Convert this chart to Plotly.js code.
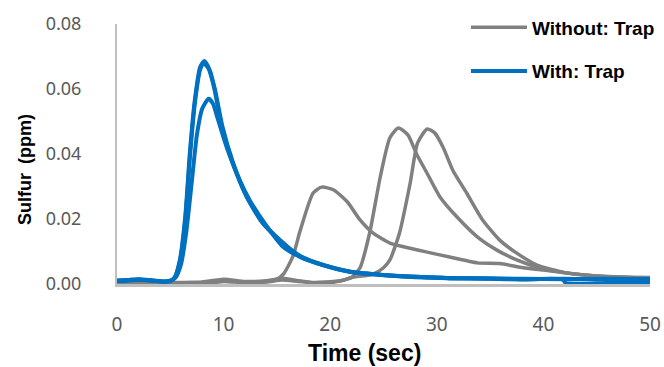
<!DOCTYPE html>
<html>
<head>
<meta charset="utf-8">
<script src="https://cdn.plot.ly/plotly-3.0.1.min.js"></script>
<style>html,body{margin:0;padding:0;background:#fff;}#chart{width:664px;height:367px;}</style>
</head>
<body>
<div id="chart"></div>
<script>
// ---- Data ----
const legendNames = ["Without: Trap", "With: Trap"];

// Without trap (gray), run 1
const tGray1 = [0,2,4,6,8,10,12,14,15,15.6,16.5,17.2,18.4,19.2,20.3,21.6,22.8,24,25.6,27.5,29.1,31.2,33.8,35.9,38.1,40,43,46,50];
const vGray1 = [0.0003,0.0005,0.0003,0.0004,0.0006,0.0015,0.0008,0.001,0.0015,0.003,0.0085,0.0166,0.028,0.0298,0.029,0.0253,0.0197,0.0157,0.0126,0.011,0.0098,0.0083,0.0065,0.0063,0.005,0.0043,0.003,0.0022,0.0018];
// Without trap (gray), run 2
const tGray2 = [0,3,6,9,10,12,14,15.5,17,18.5,19.5,21,22,22.8,23.7,24.7,25.6,26.4,27.3,28.1,29.1,30.3,31.9,33.8,35.6,37.5,39.4,42,45,50];
const vGray2 = [0.0003,0.0005,0.0003,0.0006,0.001,0.0005,0.0008,0.0018,0.001,0.0003,0.0002,0.001,0.002,0.005,0.0157,0.033,0.045,0.048,0.0458,0.040,0.034,0.0268,0.0206,0.0145,0.0105,0.0074,0.0052,0.0035,0.0025,0.002];
// Without trap (gray), run 3
const tGray3 = [0,3,6,9,10,12,14,15.5,17,18.5,19.5,21,22,24,25,25.6,26.5,27.5,28.2,29.1,29.8,30.6,31.5,32.8,34.3,35.9,37.5,39.4,42,45,50];
const vGray3 = [0.0002,0.0004,0.0005,0.0004,0.0008,0.0004,0.0006,0.0012,0.0008,0.0005,0.0006,0.001,0.002,0.003,0.005,0.0074,0.0157,0.031,0.0434,0.0477,0.0465,0.042,0.035,0.028,0.0197,0.0135,0.0095,0.0058,0.0035,0.0025,0.0018];

// With trap (blue), run 1
const tBlue1 = [0,1,2,3,4,4.5,5,5.4,5.9,6.4,6.85,7.3,7.8,8.2,8.7,9.2,9.9,10.9,12.2,13.7,15.3,17.2,19.7,21.9,25,28.1,31.2,35,38,42,46,50];
const vBlue1 = [0.001,0.0012,0.0015,0.0012,0.0008,0.0007,0.001,0.002,0.0074,0.0206,0.041,0.0566,0.0668,0.0686,0.0658,0.0597,0.0483,0.0372,0.0268,0.0188,0.0135,0.0083,0.0055,0.0038,0.0028,0.0022,0.0018,0.0017,0.0015,0.0016,0.0014,0.0015];
// With trap (blue), run 2
const tBlue2 = [0,1,2,3,4,4.5,5,5.4,5.9,6.4,6.85,7.3,7.8,8.1,8.6,9.1,9.8,10.8,12.1,13.6,15.2,17.2,19.5,22,25,28,31,35,38,41.8,42.1,46,50];
const vBlue2 = [0.0009,0.001,0.0013,0.0011,0.0009,0.0008,0.0009,0.0018,0.007,0.0195,0.0395,0.0555,0.066,0.068,0.0662,0.0605,0.049,0.0378,0.0272,0.019,0.0137,0.0086,0.0057,0.0037,0.0027,0.0021,0.0018,0.0016,0.0014,0.0014,0.0003,0.0003,0.0003];
// With trap (blue), run 3
const tBlue3 = [0,1,2,3,4,4.5,5,5.5,6,6.5,7,7.5,8,8.6,9,9.4,10.3,11.5,12.5,14,15.6,17.2,19.3,21.9,25,28.1,31.2,35,38,42,46,50];
const vBlue3 = [0.0011,0.0012,0.0014,0.0012,0.0009,0.0008,0.001,0.002,0.006,0.016,0.031,0.046,0.054,0.057,0.0555,0.0514,0.042,0.032,0.0255,0.018,0.0114,0.0083,0.0058,0.0037,0.0028,0.0022,0.0018,0.0017,0.0016,0.0015,0.0016,0.0015];

// Axis ticks
const xTicks = [0,10,20,30,40,50];
const yTicks = [0,0.02,0.04,0.06,0.08];
const yTickText = ["0.00","0.02","0.04","0.06","0.08"];

// ---- Styling ----
const GRAY = "#808080";
const BLUE = "#0070C0";

function mk(t, v, name, color, width, show, group) {
  return {
    x: t, y: v, type: "scatter", mode: "lines", name: name,
    legendgroup: group, showlegend: show,
    line: {color: color, width: width, shape: "spline", smoothing: 0.6},
    hoverinfo: "skip"
  };
}

const traces = [
  mk(tGray1, vGray1, legendNames[0], GRAY, 3.5, true, "g"),
  mk(tGray2, vGray2, legendNames[0], GRAY, 3.5, false, "g"),
  mk(tGray3, vGray3, legendNames[0], GRAY, 3.5, false, "g"),
  mk(tBlue1, vBlue1, legendNames[1], BLUE, 4, true, "b"),
  mk(tBlue2, vBlue2, legendNames[1], BLUE, 4, false, "b"),
  mk(tBlue3, vBlue3, legendNames[1], BLUE, 4, false, "b")
];

const layout = {
  width: 664, height: 367,
  margin: {l: 117, r: 14, t: 24, b: 83, autoexpand: false},
  paper_bgcolor: "#fff", plot_bgcolor: "#fff",
  showlegend: true,
  legend: {
    x: (466-117)/533, y: 1.06, xanchor: "left", yanchor: "top",
    traceorder: "grouped", tracegroupgap: 16, itemwidth: 56,
    font: {family: "Liberation Sans, Arial, sans-serif", size: 19, color: "#000", weight: "bold"},
    bgcolor: "rgba(0,0,0,0)"
  },
  xaxis: {
    range: [0, 50], tickvals: xTicks, ticktext: xTicks.map(String),
    showgrid: false, zeroline: false,
    showline: true, linecolor: "#bfbfbf", linewidth: 3,
    ticks: "outside", ticklen: 21, tickcolor: "rgba(0,0,0,0)",
    tickfont: {family: "Noto Sans, Open Sans, sans-serif", size: 19, color: "#595959"},
    fixedrange: true
  },
  yaxis: {
    range: [0, 0.08], tickvals: yTicks, ticktext: yTickText,
    showgrid: false, zeroline: false,
    showline: true, linecolor: "#bfbfbf", linewidth: 2,
    ticks: "outside", ticklen: 30, tickcolor: "rgba(0,0,0,0)",
    tickfont: {family: "Noto Sans, Open Sans, sans-serif", size: 18, color: "#595959"},
    fixedrange: true
  },
  annotations: [
    {text: "Time (sec)", xref: "paper", yref: "paper", x: (364-117)/533, y: -(353-284)/260,
     xanchor: "center", yanchor: "middle", showarrow: false,
     font: {family: "Liberation Sans, Arial, sans-serif", size: 23, color: "#000", weight: "bold"}},
    {text: "Sulfur\u2002(ppm)", xref: "paper", yref: "paper", x: (25-117)/533, y: (284-170)/260,
     xanchor: "center", yanchor: "middle", showarrow: false, textangle: -90,
     font: {family: "Liberation Sans, Arial, sans-serif", size: 18, color: "#000", weight: "bold"}}
  ]
};

Plotly.newPlot("chart", traces, layout, {displayModeBar: false, staticPlot: true});
</script>
</body>
</html>
